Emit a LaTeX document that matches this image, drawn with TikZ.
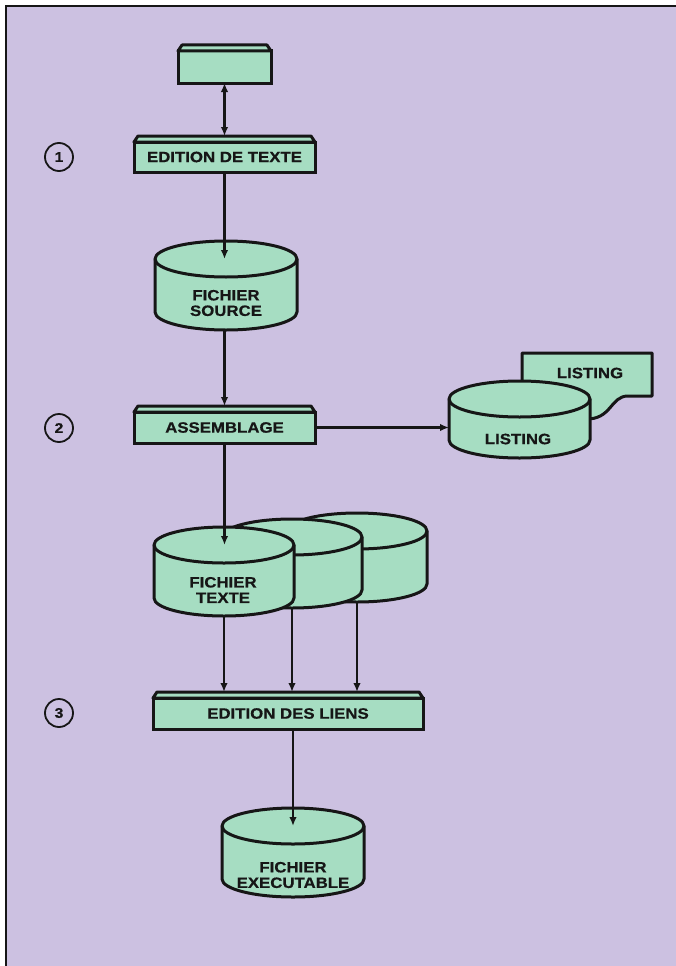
\documentclass[tikz,border=0pt]{standalone}
\usepackage{fontspec}
\usepackage{tikz}
\usetikzlibrary{positioning,arrows.meta,calc}
\usepackage{xcolor}
\newfontfamily\boxfont[FakeStretch=1.12,FakeBold=0.6]{Liberation Sans Bold}
\definecolor{paper}{HTML}{CCC1E1}
\definecolor{mint}{HTML}{A6DDC2}
\definecolor{ink}{HTML}{161616}

% half-width and half-height of the disk ends
\def\diskrx{71}
\def\diskry{18}
% disk: #1 name, #2 x, #3 y of top centre, #4 body height
\newcommand{\drawDisk}[4]{%
    \filldraw[diskLine] (#2-\diskrx,#3) -- (#2-\diskrx,#3+#4)
        arc[start angle=180, end angle=0, x radius=\diskrx, y radius=\diskry]
        -- (#2+\diskrx,#3)
        arc[start angle=0, end angle=-180, x radius=\diskrx, y radius=\diskry] -- cycle;
    \draw[diskLine, fill=none] (#2-\diskrx,#3)
        arc[start angle=180, end angle=0, x radius=\diskrx, y radius=\diskry];
    \coordinate (#1-top) at (#2,#3);
    \coordinate (#1-bot) at (#2,#3+#4+\diskry);
    \coordinate (#1-w) at (#2-\diskrx,#3+#4/2);
}
% raised top edge of a stage box
\newcommand{\bevel}[1]{%
    \filldraw[bevelLine] (#1.north west) -- ([xshift=4pt,yshift=6pt]#1.north west)
        -- ([xshift=-4pt,yshift=6pt]#1.north east) -- (#1.north east) -- cycle;
    \coordinate (#1-top) at ([yshift=6pt]#1.north);
}

\begin{document}
\begin{tikzpicture}[
    x=1pt, y=-1pt,
    stageBox/.style={rectangle, draw=ink, fill=mint, line width=3pt, outer sep=0pt, inner sep=0pt, text=ink, font=\boxfont\fontsize{15}{15}\selectfont},
    bevelLine/.style={draw=ink, fill=mint, line width=3pt, line join=round},
    diskLine/.style={draw=ink, fill=mint, line width=3pt, line join=round},
    diskText/.style={align=center, inner sep=0pt, text=ink, font=\boxfont\fontsize{15}{15.5}\selectfont},
    stepMark/.style={circle, draw=ink, line width=1.8pt, minimum size=28pt, inner sep=0pt, text=ink, font=\boxfont\fontsize{14}{14}\selectfont},
    flowArrow/.style={-{Latex[length=9pt,width=7.5pt]}, line width=2.6pt, draw=ink},
    dualArrow/.style={{Latex[length=9pt,width=7.5pt]}-{Latex[length=9pt,width=7.5pt]}, line width=2.6pt, draw=ink}
]
    \useasboundingbox (0,0) rectangle (676,966);
    \fill[white] (0,0) rectangle (676,966);
    \fill[paper] (6,6) rectangle (676,966);
    \draw[ink, line width=2.4pt] (6,966) -- (6,6) -- (676,6);

    % Step numbers
    \node[stepMark] (s1) at (59,157) {1};
    \node[stepMark] (s2) at (59,428) {2};
    \node[stepMark] (s3) at (59,713) {3};

    % Node 1: Terminal
    \node[stageBox, minimum width=93pt, minimum height=32pt] (term) at (224.5,67) {};
    \bevel{term}

    % Node 2: Edition de texte
    \node[stageBox, minimum width=181pt, minimum height=30pt] (edit) at (224.5,157) {EDITION DE TEXTE};
    \bevel{edit}

    % Node 3: Fichier source
    \drawDisk{src}{226}{259}{53}
    \node[diskText] (srcLabel) at (226,303) {FICHIER\\SOURCE};

    % Node 4: Assemblage
    \node[stageBox, minimum width=181pt, minimum height=31pt] (assem) at (224.5,427.5) {ASSEMBLAGE};
    \bevel{assem}

    % Node 5: Listing (paper + disk)
    \filldraw[bevelLine] (522,353) -- (652,353) -- (652,396) -- (628,396)
        .. controls (610,396) and (612,420) .. (585,419) -- (522,419) -- cycle;
    \node[diskText] (docLabel) at (590,373) {LISTING};
    \def\diskrx{70.5}
    \drawDisk{lst}{519.5}{399}{41}
    \node[diskText] (lstLabel) at (518,439) {LISTING};

    % Node 6: Fichiers texte (three disks)
    \def\diskrx{70}
    \drawDisk{txt3}{357}{531}{53}
    \drawDisk{txt2}{292}{537}{53}
    \drawDisk{txt1}{224}{545}{53}
    \node[diskText] (txtLabel) at (223,590) {FICHIER\\TEXTE};

    % Node 7: Edition des liens
    \node[stageBox, minimum width=270pt, minimum height=31pt] (liens) at (288,713.5) {EDITION DES LIENS};
    \bevel{liens}

    % Node 8: Fichier executable
    \def\diskrx{71}
    \drawDisk{exec}{293}{826}{53}
    \node[diskText] (execLabel) at (293,875) {FICHIER\\EXECUTABLE};

    % Arrows
    \draw[dualArrow] (term.south) -- (edit-top);
    \draw[flowArrow] (edit.south) -- (edit.south |- src-top);
    \draw[flowArrow] (src-bot -| assem-top) -- (assem-top);
    \draw[flowArrow] (assem.east) -- (assem.east -| lst-w);
    \draw[flowArrow] (assem.south) -- (assem.south |- txt1-top);
    \foreach \d in {txt1,txt2,txt3}
        \draw[flowArrow] (\d-bot) -- (\d-bot |- liens-top);
    \draw[flowArrow] (liens.south -| exec-top) -- (exec-top);

\end{tikzpicture}
\end{document}
